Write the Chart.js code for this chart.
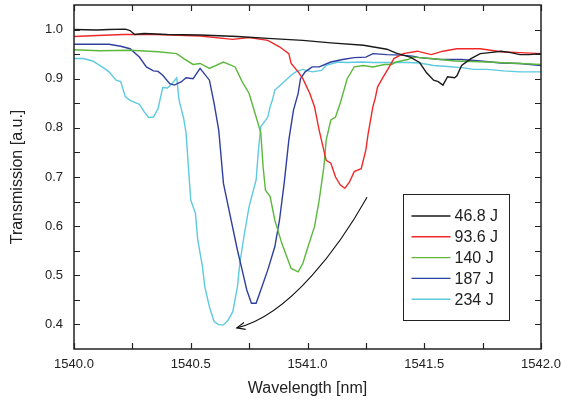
<!DOCTYPE html>
<html>
<head>
<meta charset="utf-8">
<script src="https://cdn.jsdelivr.net/npm/chart.js@4/dist/chart.umd.min.js"></script>
<style>
  html, body { margin: 0; padding: 0; background: #fff; }
  #wrap { width: 561px; height: 404px; position: relative; }
</style>
</head>
<body>
<div id="wrap"><canvas id="spectra"></canvas></div>
<script>
  const energyLabels = ['46.8 J', '93.6 J', '140 J', '187 J', '234 J'];
  const lineColors = ['#1a1a1a', '#f02828', '#5cb83c', '#2f3f9f', '#5ccadf'];

  const wl468 = [1540.00, 1540.10, 1540.15, 1540.22, 1540.24, 1540.26, 1540.30, 1540.40, 1540.54, 1540.70, 1540.83, 1540.98, 1541.10, 1541.24, 1541.34, 1541.38, 1541.44, 1541.48, 1541.51, 1541.54, 1541.56, 1541.58, 1541.60, 1541.63, 1541.64, 1541.66, 1541.70, 1541.74, 1541.78, 1541.83, 1541.87, 1541.91, 1541.95, 1542.00];
  const tr468 = [1.000, 0.999, 1.000, 1.001, 0.998, 0.990, 0.992, 0.990, 0.989, 0.986, 0.982, 0.978, 0.973, 0.968, 0.960, 0.952, 0.944, 0.933, 0.912, 0.897, 0.894, 0.887, 0.904, 0.902, 0.906, 0.927, 0.941, 0.951, 0.953, 0.956, 0.953, 0.949, 0.949, 0.951];

  const wl936 = [1540.00, 1540.10, 1540.21, 1540.35, 1540.54, 1540.68, 1540.75, 1540.83, 1540.88, 1540.92, 1540.93, 1540.96, 1540.98, 1541.01, 1541.03, 1541.05, 1541.08, 1541.10, 1541.12, 1541.14, 1541.16, 1541.18, 1541.20, 1541.23, 1541.25, 1541.26, 1541.28, 1541.29, 1541.30, 1541.32, 1541.35, 1541.37, 1541.41, 1541.47, 1541.53, 1541.58, 1541.64, 1541.74, 1541.83, 1541.91, 1542.00];
  const tr936 = [0.986, 0.988, 0.990, 0.990, 0.987, 0.980, 0.984, 0.978, 0.965, 0.951, 0.931, 0.914, 0.900, 0.870, 0.843, 0.795, 0.734, 0.728, 0.700, 0.684, 0.677, 0.690, 0.711, 0.717, 0.755, 0.789, 0.843, 0.860, 0.883, 0.900, 0.924, 0.941, 0.951, 0.956, 0.949, 0.956, 0.961, 0.961, 0.955, 0.953, 0.951];

  const wl140 = [1540.00, 1540.11, 1540.24, 1540.36, 1540.44, 1540.47, 1540.51, 1540.54, 1540.58, 1540.64, 1540.69, 1540.72, 1540.75, 1540.78, 1540.80, 1540.81, 1540.82, 1540.84, 1540.86, 1540.89, 1540.93, 1540.96, 1540.98, 1541.00, 1541.03, 1541.05, 1541.07, 1541.08, 1541.10, 1541.12, 1541.14, 1541.16, 1541.17, 1541.20, 1541.24, 1541.28, 1541.33, 1541.36, 1541.38, 1541.43, 1541.45, 1541.48, 1541.53, 1541.63, 1541.77, 1541.91, 1542.00];
  const tr140 = [0.959, 0.957, 0.958, 0.955, 0.951, 0.941, 0.929, 0.931, 0.921, 0.934, 0.924, 0.894, 0.870, 0.822, 0.790, 0.720, 0.673, 0.660, 0.612, 0.565, 0.514, 0.507, 0.524, 0.555, 0.599, 0.653, 0.720, 0.775, 0.816, 0.822, 0.850, 0.883, 0.900, 0.924, 0.927, 0.924, 0.929, 0.929, 0.934, 0.939, 0.944, 0.943, 0.941, 0.936, 0.934, 0.931, 0.929];

  const wl187 = [1540.00, 1540.15, 1540.20, 1540.24, 1540.28, 1540.31, 1540.34, 1540.36, 1540.38, 1540.41, 1540.43, 1540.46, 1540.48, 1540.51, 1540.54, 1540.58, 1540.60, 1540.62, 1540.64, 1540.67, 1540.70, 1540.72, 1540.74, 1540.76, 1540.78, 1540.80, 1540.83, 1540.86, 1540.88, 1540.90, 1540.92, 1540.94, 1540.96, 1540.97, 1540.99, 1541.02, 1541.05, 1541.10, 1541.15, 1541.20, 1541.25, 1541.28, 1541.34, 1541.40, 1541.45, 1541.48, 1541.57, 1541.66, 1541.74, 1541.83, 1541.91, 1542.00];
  const tr187 = [0.970, 0.970, 0.966, 0.961, 0.944, 0.924, 0.916, 0.915, 0.907, 0.890, 0.887, 0.894, 0.902, 0.900, 0.921, 0.897, 0.850, 0.795, 0.687, 0.619, 0.551, 0.511, 0.470, 0.443, 0.443, 0.470, 0.511, 0.558, 0.612, 0.687, 0.775, 0.836, 0.870, 0.900, 0.914, 0.924, 0.924, 0.934, 0.939, 0.943, 0.944, 0.951, 0.949, 0.948, 0.946, 0.943, 0.939, 0.939, 0.936, 0.932, 0.931, 0.927];

  const wl234 = [1540.00, 1540.04, 1540.08, 1540.13, 1540.15, 1540.18, 1540.20, 1540.22, 1540.24, 1540.27, 1540.28, 1540.30, 1540.32, 1540.34, 1540.36, 1540.38, 1540.40, 1540.42, 1540.44, 1540.45, 1540.47, 1540.48, 1540.49, 1540.50, 1540.52, 1540.53, 1540.55, 1540.56, 1540.58, 1540.60, 1540.62, 1540.64, 1540.66, 1540.68, 1540.70, 1540.71, 1540.73, 1540.75, 1540.78, 1540.79, 1540.80, 1540.83, 1540.84, 1540.85, 1540.86, 1540.90, 1540.93, 1540.95, 1540.98, 1541.02, 1541.06, 1541.08, 1541.13, 1541.17, 1541.23, 1541.28, 1541.34, 1541.43, 1541.48, 1541.54, 1541.60, 1541.67, 1541.71, 1541.77, 1541.84, 1541.91, 1542.00];
  const tr234 = [0.941, 0.941, 0.936, 0.921, 0.914, 0.897, 0.894, 0.863, 0.856, 0.850, 0.848, 0.833, 0.821, 0.822, 0.839, 0.882, 0.881, 0.890, 0.902, 0.856, 0.819, 0.789, 0.720, 0.653, 0.626, 0.572, 0.518, 0.477, 0.436, 0.406, 0.399, 0.399, 0.409, 0.426, 0.477, 0.524, 0.585, 0.640, 0.694, 0.755, 0.802, 0.822, 0.843, 0.857, 0.877, 0.894, 0.907, 0.914, 0.919, 0.914, 0.917, 0.927, 0.934, 0.933, 0.934, 0.933, 0.933, 0.933, 0.932, 0.927, 0.925, 0.922, 0.919, 0.919, 0.916, 0.914, 0.914];

  const xTickValues = [1540.0, 1540.5, 1541.0, 1541.5, 1542.0];
  const yTickValues = [0.4, 0.5, 0.6, 0.7, 0.8, 0.9, 1.0];

  // curved arrow (start, two control points, end) in wavelength / transmission units
  const arrowPath = [[1541.255, 0.659], [1541.14, 0.562], [1540.926, 0.419], [1540.697, 0.393]];

  const seriesWl = [wl468, wl936, wl140, wl187, wl234];
  const seriesTr = [tr468, tr936, tr140, tr187, tr234];

  function toPoints(xs, ys) {
    return xs.map((x, i) => ({ x, y: ys[i] }));
  }

  const INK = '#222';
  const FONT = '"Liberation Sans", Arial, sans-serif';

  const framePlugin = {
    id: 'frameTicks',
    afterDatasetsDraw(chart) {
      const { ctx, chartArea: a, scales: { x, y } } = chart;
      ctx.save();
      ctx.strokeStyle = INK;
      ctx.lineWidth = 1.5;
      ctx.strokeRect(a.left, a.top, a.right - a.left, a.bottom - a.top);
      ctx.lineWidth = 1.2;
      ctx.beginPath();
      for (let v = 1540; v <= 1542.001; v += 0.25) {
        const px = Math.round(x.getPixelForValue(v)) + 0.5;
        ctx.moveTo(px, a.bottom); ctx.lineTo(px, a.bottom - 6);
        ctx.moveTo(px, a.top); ctx.lineTo(px, a.top + 6);
      }
      for (let v = 0.4; v <= 1.001; v += 0.05) {
        const py = Math.round(y.getPixelForValue(v)) + 0.5;
        ctx.moveTo(a.left, py); ctx.lineTo(a.left + 6, py);
        ctx.moveTo(a.right, py); ctx.lineTo(a.right - 6, py);
      }
      ctx.stroke();

      // arrow
      const p = arrowPath.map(([wx, ty]) => [x.getPixelForValue(wx), y.getPixelForValue(ty)]);
      ctx.strokeStyle = '#111';
      ctx.lineWidth = 1.1;
      ctx.beginPath();
      ctx.moveTo(p[0][0], p[0][1]);
      ctx.bezierCurveTo(p[1][0], p[1][1], p[2][0], p[2][1], p[3][0], p[3][1]);
      ctx.stroke();
      const ang = Math.atan2(p[3][1] - p[2][1], p[3][0] - p[2][0]);
      const len = 9, spread = 0.4;
      ctx.beginPath();
      ctx.moveTo(p[3][0] - len * Math.cos(ang - spread), p[3][1] - len * Math.sin(ang - spread));
      ctx.lineTo(p[3][0], p[3][1]);
      ctx.lineTo(p[3][0] - len * Math.cos(ang + spread), p[3][1] - len * Math.sin(ang + spread));
      ctx.stroke();

      // legend box
      const bx = 403.5, by = 194.5, bw = 106, bh = 126;
      ctx.fillStyle = '#fff';
      ctx.fillRect(bx, by, bw, bh);
      ctx.strokeStyle = INK;
      ctx.lineWidth = 1;
      ctx.strokeRect(bx, by, bw, bh);
      ctx.font = '16px ' + FONT;
      ctx.textBaseline = 'middle';
      ctx.textAlign = 'left';
      chart.data.datasets.forEach((ds, i) => {
        const ry = by + 21.5 + i * 20.8;
        ctx.strokeStyle = ds.borderColor;
        ctx.lineWidth = 1.4;
        ctx.beginPath();
        ctx.moveTo(bx + 8, ry); ctx.lineTo(bx + 47, ry);
        ctx.stroke();
        ctx.fillStyle = INK;
        ctx.fillText(ds.label, bx + 51, ry + 1);
      });
      ctx.restore();
    }
  };

  new Chart(document.getElementById('spectra'), {
    type: 'line',
    data: {
      datasets: energyLabels.map((label, i) => ({
        label,
        data: toPoints(seriesWl[i], seriesTr[i]),
        borderColor: lineColors[i],
        borderWidth: 1.4,
        pointRadius: 0,
        tension: 0,
        fill: false
      }))
    },
    options: {
      responsive: true,
      maintainAspectRatio: false,
      animation: false,
      layout: { padding: { top: 5, right: 20, bottom: 0, left: 0 } },
      plugins: { legend: { display: false }, tooltip: { enabled: false } },
      scales: {
        x: {
          type: 'linear',
          min: 1540,
          max: 1542,
          afterFit: (s) => { s.height = 55; s.paddingLeft = 0; s.paddingRight = 0; },
          afterBuildTicks: (s) => { s.ticks = xTickValues.map((v) => ({ value: v })); },
          grid: { display: false, drawTicks: false },
          border: { display: false },
          ticks: {
            padding: 8,
            color: INK,
            font: { family: FONT, size: 13 },
            maxRotation: 0,
            callback: (v) => Number(v).toFixed(1)
          },
          title: {
            display: true,
            text: 'Wavelength [nm]',
            color: INK,
            font: { family: FONT, size: 16 },
            padding: { top: 0, bottom: 6 }
          }
        },
        y: {
          min: 0.35,
          max: 1.05,
          afterFit: (s) => { s.width = 74; s.paddingTop = 0; s.paddingBottom = 0; },
          afterBuildTicks: (s) => { s.ticks = yTickValues.map((v) => ({ value: v })); },
          grid: { display: false, drawTicks: false },
          border: { display: false },
          ticks: {
            padding: 11,
            color: INK,
            font: { family: FONT, size: 13 },
            callback: (v) => Number(v).toFixed(1)
          },
          title: {
            display: true,
            text: 'Transmission [a.u.]',
            color: INK,
            font: { family: FONT, size: 16 },
            padding: { top: 8, bottom: 0 }
          }
        }
      }
    },
    plugins: [framePlugin]
  });
</script>
</body>
</html>
